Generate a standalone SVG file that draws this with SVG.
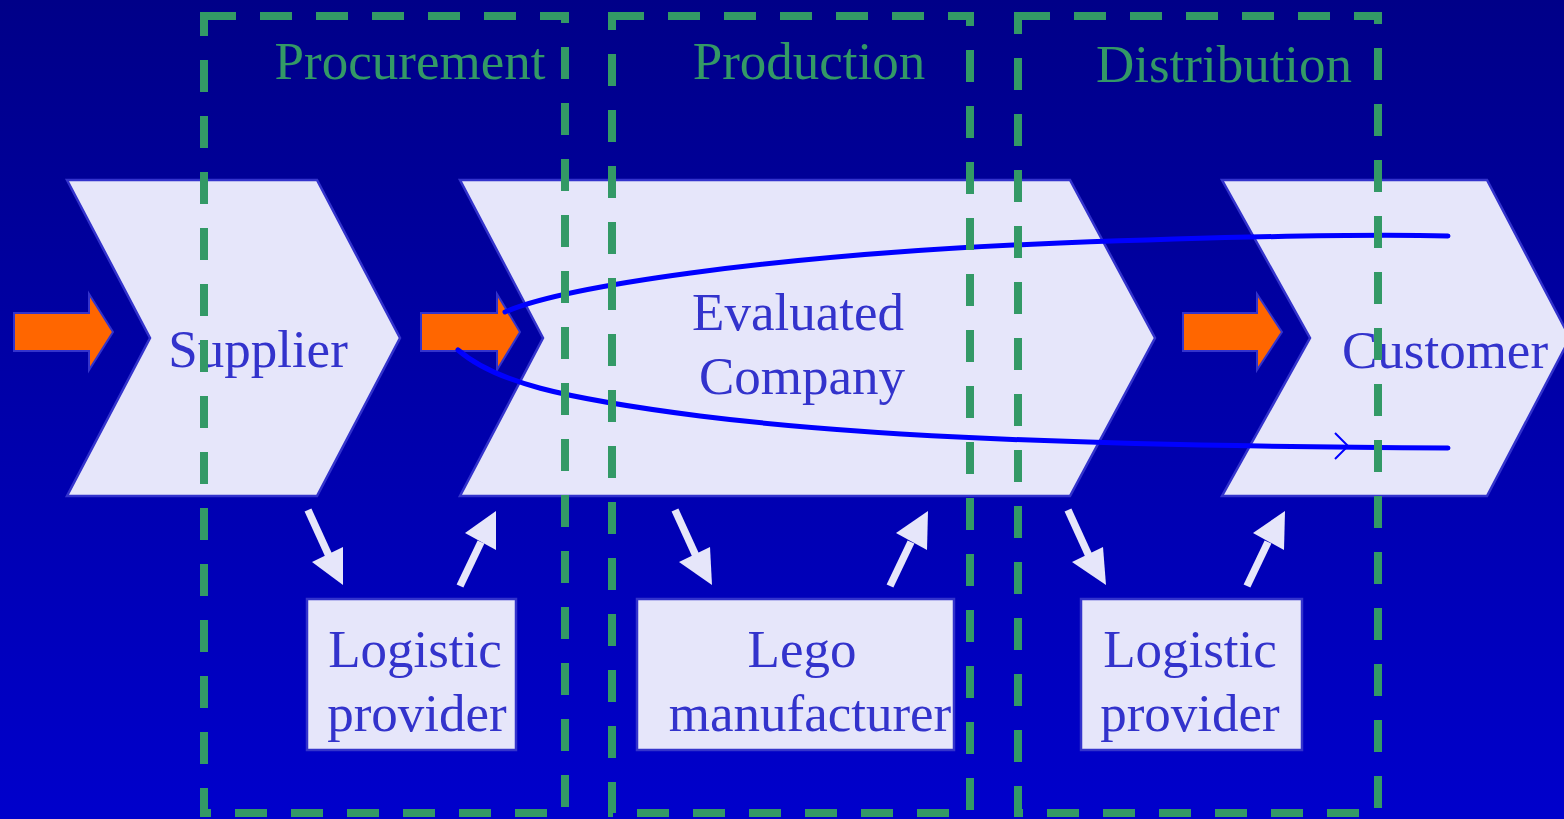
<svg xmlns="http://www.w3.org/2000/svg" width="1564" height="819" viewBox="0 0 1564 819">
<defs>
<linearGradient id="bg" x1="0" y1="0" x2="0" y2="1">
<stop offset="0" stop-color="#000088"/>
<stop offset="1" stop-color="#0000CC"/>
</linearGradient>
<style>
.chev{fill:#E6E6FA;stroke:#3333CC;stroke-width:2.5}
.box{fill:#E6E6FA;stroke:#3333CC;stroke-width:2.5}
.lbl{font-family:"Liberation Serif","Times New Roman",serif;font-size:53px;fill:#3333CC;text-anchor:middle}
.grp{font-family:"Liberation Serif","Times New Roman",serif;font-size:53px;fill:#339966;text-anchor:middle}
.zone{fill:none;stroke:#339966;stroke-width:8;stroke-dasharray:32 24}
.orange{fill:#FF6600;stroke:#3333CC;stroke-width:2}
.flow{fill:none;stroke:#0000FF;stroke-width:5;stroke-linecap:round}
.warr{stroke:#E6E6FA;stroke-width:7.5}
.whead{fill:#E6E6FA}
</style>
</defs>
<rect x="0" y="0" width="1564" height="819" fill="url(#bg)"/>

<g id="supplier">
<polygon class="chev" points="67,180 317,180 400,338 317,496 67,496 150,338"/>
<text class="lbl" x="258" y="367">Supplier</text>
</g>
<g id="evaluated-company">
<polygon class="chev" points="460,180 1070,180 1155,338 1070,496 460,496 543,338"/>
<text class="lbl" x="798" y="330">Evaluated</text>
<text class="lbl" x="802" y="394">Company</text>
</g>
<g id="customer">
<polygon class="chev" points="1222,180 1487,180 1570,338 1487,496 1222,496 1310,338"/>
<text class="lbl" x="1445" y="368">Customer</text>
</g>

<g id="logistic-provider-1">
<rect class="box" x="307" y="599" width="209" height="151"/>
<text class="lbl" x="415" y="667">Logistic</text>
<text class="lbl" x="417" y="731">provider</text>
</g>
<g id="lego-manufacturer">
<rect class="box" x="637" y="599" width="317" height="151"/>
<text class="lbl" x="802" y="667">Lego</text>
<text class="lbl" x="810" y="731">manufacturer</text>
</g>
<g id="logistic-provider-2">
<rect class="box" x="1081" y="599" width="221" height="151"/>
<text class="lbl" x="1190" y="667">Logistic</text>
<text class="lbl" x="1190" y="731">provider</text>
</g>

<g id="connectors">
<polygon class="orange" points="14,313 89,313 89,294 113,332 89,370 89,351 14,351"/>
<polygon class="orange" points="421,313 497,313 497,294 520,332 497,370 497,351 421,351"/>
<polygon class="orange" points="1183,313 1257,313 1257,294 1282,332 1257,370 1257,351 1183,351"/>

<path class="flow" d="M505,312 C560,288 760,255 1060,243 C1250,236 1380,234 1448,236"/>
<path class="flow" d="M458,350 C495,382 560,398 700,416 C860,436 1080,446 1448,448"/>
<polyline points="1335,433 1348,446 1335,459" fill="none" stroke="#0000FF" stroke-width="2"/>

<line class="warr" x1="308" y1="510" x2="329" y2="556"/>
<polygon class="whead" points="312,562 343,547 343,585"/>
<line class="warr" x1="460" y1="586" x2="481" y2="542"/>
<polygon class="whead" points="465,533 496,550 496,511"/>

<line class="warr" x1="675" y1="510" x2="696" y2="556"/>
<polygon class="whead" points="679,562 710,547 712,585"/>
<line class="warr" x1="890" y1="586" x2="911" y2="542"/>
<polygon class="whead" points="896,533 927,550 928,511"/>

<line class="warr" x1="1068" y1="510" x2="1089" y2="556"/>
<polygon class="whead" points="1072,562 1103,547 1106,585"/>
<line class="warr" x1="1247" y1="586" x2="1268" y2="542"/>
<polygon class="whead" points="1253,533 1284,550 1285,511"/>
</g>

<g id="procurement">
<rect class="zone" x="204" y="16" width="361" height="797"/>
<text class="grp" x="410" y="79">Procurement</text>
</g>
<g id="production">
<rect class="zone" x="612" y="16" width="358" height="797"/>
<text class="grp" x="809" y="79">Production</text>
</g>
<g id="distribution">
<rect class="zone" x="1018" y="16" width="360" height="797"/>
<text class="grp" x="1224" y="82">Distribution</text>
</g>
</svg>
